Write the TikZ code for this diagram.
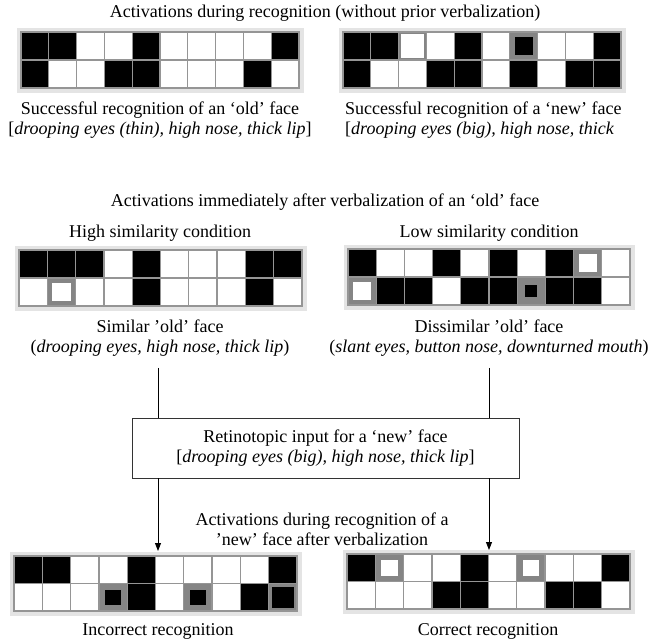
\documentclass[tikz,border=0pt]{standalone}
\usepackage{fontspec}
\setmainfont{Liberation Serif}
\usetikzlibrary{arrows.meta}
\definecolor{framegray}{HTML}{E4E4E4}
\definecolor{linegray}{HTML}{959595}
\definecolor{ringgray}{HTML}{858585}
\tikzset{
  lbl/.style={font=\fontsize{18}{20}\selectfont, align=center, inner sep=0pt},
  gridline/.style={draw=linegray, line width=1.3pt},
  conn/.style={draw=black, line width=0.9pt},
  inbox/.style={draw=black!80, line width=0.9pt, minimum width=387, minimum height=60, inner sep=0pt}
}
% one row of ten cells: x0, ytop, x1, height, list of code/ring
\newcommand{\facerow}[5]{%
  \pgfmathsetmacro{\gcw}{(#3-#1)/10}%
  \foreach \cc/\rw [count=\ii from 0] in {#5} {%
    \pgfmathsetmacro{\xa}{#1+\ii*\gcw}%
    \pgfmathsetmacro{\xb}{\xa+\gcw}%
    \ifcase\cc
      \fill[white] (\xa,#2) rectangle (\xb,#2+#4);
    \or
      \fill[black] (\xa,#2) rectangle (\xb,#2+#4);
    \or
      \fill[ringgray] (\xa,#2) rectangle (\xb,#2+#4);
      \fill[white] (\xa+\rw,#2+\rw) rectangle (\xb-\rw,#2+#4-\rw);
    \or
      \fill[ringgray] (\xa,#2) rectangle (\xb,#2+#4);
      \fill[black] (\xa+\rw,#2+\rw) rectangle (\xb-\rw,#2+#4-\rw);
    \fi
  }%
}
% whole 2x10 grid: x0, y0, x1, y1, row1, row2
\newcommand{\facegrid}[6]{%
  \pgfmathsetmacro{\gch}{(#4-#2)/2}%
  \fill[framegray] (#1-4,#2-4) rectangle (#3+5,#4+5);
  \facerow{#1}{#2}{#3}{\gch}{#5}
  \facerow{#1}{#2+\gch}{#3}{\gch}{#6}
  \foreach \k in {0,...,10} {\draw[gridline] ({#1+\k*(#3-#1)/10},#2) -- ({#1+\k*(#3-#1)/10},#4);}
  \draw[gridline] (#1,#2) rectangle (#3,#4);
  \draw[gridline] (#1,#2+\gch) -- (#3,#2+\gch);
}
\begin{document}
\begin{tikzpicture}[x=1pt, y=-1pt]
\useasboundingbox (0,0) rectangle (651,644);
\fill[white] (0,0) rectangle (651,644);

% grids
\facegrid{21}{32}{299}{88}{1/0,1/0,0/0,0/0,1/0,0/0,0/0,0/0,0/0,1/0}{1/0,0/0,0/0,1/0,1/0,0/0,0/0,0/0,1/0,0/0}
\facegrid{343}{32}{621}{88}{1/0,1/0,2/2,0/0,1/0,0/0,3/5,0/0,0/0,1/0}{1/0,0/0,0/0,1/0,1/0,0/0,1/0,0/0,1/0,1/0}
\facegrid{19}{250}{302}{306}{1/0,1/0,1/0,0/0,1/0,0/0,0/0,0/0,1/0,1/0}{0/0,2/5,0/0,0/0,1/0,0/0,0/0,0/0,1/0,0/0}
\facegrid{348}{249}{630}{305}{1/0,0/0,0/0,1/0,0/0,1/0,0/0,1/0,2/5,0/0}{2/5,1/0,1/0,0/0,1/0,1/0,3/8,1/0,1/0,0/0}
\facegrid{14}{556}{297}{611}{1/0,1/0,0/0,0/0,1/0,0/0,0/0,0/0,0/0,1/0}{0/0,0/0,0/0,3/6,1/0,0/0,3/6,0/0,1/0,3/3}
\facegrid{347}{554}{630}{609}{1/0,2/6,0/0,0/0,1/0,0/0,2/6,0/0,0/0,1/0}{0/0,0/0,0/0,1/0,1/0,0/0,0/0,1/0,1/0,0/0}

% texts
\node[lbl] (t1) at (325,13) {Activations during recognition (without prior verbalization)};
\node[lbl] (c1) at (160,120) {Successful recognition of an ‘old’ face\\{[}\textit{drooping eyes (thin), high nose, thick lip}{]}};
\node[lbl, anchor=west, align=left] (c2) at (345,120) {Successful recognition of a ‘new’ face\\{[}\textit{drooping eyes (big), high nose, thick}};
\node[lbl] (h2) at (325,202) {Activations immediately after verbalization of an ‘old’ face};
\node[lbl] (hs) at (160,233) {High similarity condition};
\node[lbl] (ls) at (489,233) {Low similarity condition};
\node[lbl] (sf) at (160,338) {Similar ’old’ face\\(\textit{drooping eyes, high nose, thick lip})};
\node[lbl] (df) at (489,338) {Dissimilar ’old’ face\\(\textit{slant eyes, button nose, downturned mouth})};
\node[lbl, inbox] (box) at (325.5,448) {Retinotopic input for a ‘new’ face\\{[}\textit{drooping eyes (big), high nose, thick lip}{]}};
\node[lbl] (h3) at (322,529) {Activations during recognition of a\\’new’ face after verbalization};
\node[lbl] (ir) at (158,631) {Incorrect recognition};
\node[lbl] (cr) at (488,631) {Correct recognition};

% connectors
\coordinate (s1) at (158,368);
\coordinate (s2) at (489,368);
\coordinate (e1) at (158,551);
\coordinate (e2) at (489,550);
\draw[conn] (s1) -- (s1 |- box.north);
\draw[conn] (s2) -- (s2 |- box.north);
\draw[conn, -{Triangle[length=8pt,width=6pt]}] (e1 |- box.south) -- (e1);
\draw[conn, -{Triangle[length=8pt,width=6pt]}] (e2 |- box.south) -- (e2);
\end{tikzpicture}
\end{document}
